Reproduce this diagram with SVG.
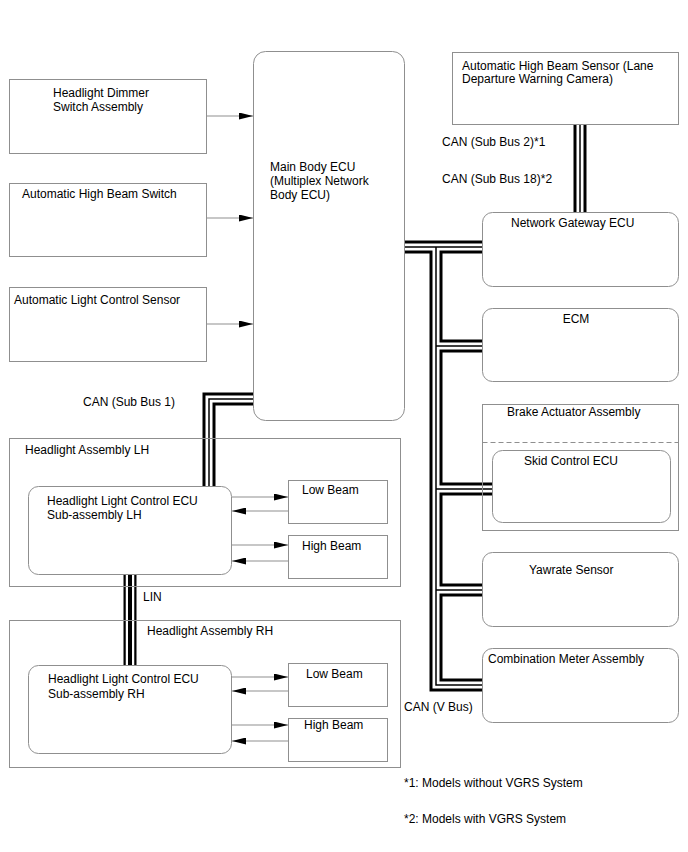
<svg xmlns="http://www.w3.org/2000/svg" width="688" height="852" viewBox="0 0 688 852">
<style>
.box{fill:#fff;stroke:#8f8f8f;stroke-width:1}
.grp{fill:none;stroke:#8f8f8f;stroke-width:1}
.t{font-family:"Liberation Sans",Arial,sans-serif;font-size:12px;fill:#000}
.ln{fill:none;stroke:#8f8f8f;stroke-width:1}
.b1{fill:none;stroke:#000;stroke-width:13;stroke-linejoin:miter}
.b2{fill:none;stroke:#fff;stroke-width:7;stroke-linejoin:miter}
.b3{fill:none;stroke:#000;stroke-width:1.5;stroke-linejoin:miter}
.l2{fill:none;stroke:#fff;stroke-width:8.5}
.l3{fill:none;stroke:#000;stroke-width:4}
</style>
<defs>
<marker id="ah" viewBox="0 0 14 7" refX="14" refY="3.5" markerWidth="14" markerHeight="7" markerUnits="userSpaceOnUse" orient="auto">
<path d="M0,0 L14,3.5 L0,7 z" fill="#000"/>
</marker>
<path id="busR" d="M404,247 H482 M436,247 V685 H482 M436,346 H482 M436,489 H492 M436,590 H482"/>
<path id="busS" d="M580,124 V212"/>
<path id="busL" d="M254,399 H209 V486"/>
<path id="busLin" d="M130,574 V666"/>
</defs>
<rect width="688" height="852" fill="#fff"/>
<g id="connectors">
<use href="#busR" class="b1"/><use href="#busS" class="b1"/><use href="#busL" class="b1"/><use href="#busLin" class="b1"/>
<use href="#busR" class="b2"/><use href="#busS" class="b2"/><use href="#busL" class="b2"/><use href="#busLin" class="l2"/>
<use href="#busR" class="b3"/><use href="#busS" class="b3"/><use href="#busL" class="b3"/><use href="#busLin" class="l3"/>
<path class="ln" marker-end="url(#ah)" d="M207,116 H253"/>
<path class="ln" marker-end="url(#ah)" d="M207,218 H253"/>
<path class="ln" marker-end="url(#ah)" d="M207,324 H253"/>
<path class="ln" marker-end="url(#ah)" d="M232,497 H288"/>
<path class="ln" marker-end="url(#ah)" d="M288,511 H232"/>
<path class="ln" marker-end="url(#ah)" d="M232,545 H288"/>
<path class="ln" marker-end="url(#ah)" d="M288,561 H232"/>
<path class="ln" marker-end="url(#ah)" d="M232,677 H288"/>
<path class="ln" marker-end="url(#ah)" d="M288,691 H232"/>
<path class="ln" marker-end="url(#ah)" d="M232,725 H288"/>
<path class="ln" marker-end="url(#ah)" d="M288,741 H232"/>
<text class="t" x="442" y="146">CAN (Sub Bus 2)*1</text>
<text class="t" x="442" y="183">CAN (Sub Bus 18)*2</text>
<text class="t" x="83" y="406">CAN (Sub Bus 1)</text>
<text class="t" x="143" y="601">LIN</text>
<text class="t" x="404" y="711">CAN (V Bus)</text>
</g>
<g id="dimmer"><rect class="box" x="9.5" y="79.5" width="197" height="74"/>
<text class="t" x="53" y="97">Headlight Dimmer</text><text class="t" x="53" y="111">Switch Assembly</text></g>
<g id="hbswitch"><rect class="box" x="9.5" y="183.5" width="197" height="73"/>
<text class="t" x="22" y="198">Automatic High Beam Switch</text></g>
<g id="lightsensor"><rect class="box" x="9.5" y="287.5" width="197" height="74"/>
<text class="t" x="14" y="304">Automatic Light Control Sensor</text></g>
<g id="mainecu"><rect class="box" x="253.5" y="51.5" width="151" height="369" rx="12"/>
<text class="t" x="270" y="171">Main Body ECU</text><text class="t" x="270" y="185">(Multiplex Network</text><text class="t" x="270" y="199">Body ECU)</text></g>
<g id="hbsensor"><rect class="box" x="452.5" y="52.5" width="226" height="72"/>
<text class="t" x="462" y="70">Automatic High Beam Sensor (Lane</text><text class="t" x="462" y="83">Departure Warning Camera)</text></g>
<g id="gateway"><rect class="box" x="482.5" y="212.5" width="196" height="74" rx="10"/>
<text class="t" x="511" y="227">Network Gateway ECU</text></g>
<g id="ecm"><rect class="box" x="482.5" y="308.5" width="196" height="73" rx="10"/>
<text class="t" x="576" y="323" text-anchor="middle">ECM</text></g>
<g id="brake"><rect class="grp" x="482.5" y="404.5" width="196" height="126"/>
<line x1="482.5" y1="442.5" x2="678.5" y2="442.5" stroke="#8f8f8f" stroke-dasharray="5,3"/>
<text class="t" x="507" y="416">Brake Actuator Assembly</text></g>
<g id="skid"><rect class="box" x="492.5" y="450.5" width="178" height="72" rx="10"/>
<text class="t" x="524" y="465">Skid Control ECU</text></g>
<g id="yaw"><rect class="box" x="482.5" y="552.5" width="196" height="74" rx="10"/>
<text class="t" x="529" y="574">Yawrate Sensor</text></g>
<g id="meter"><rect class="box" x="482.5" y="648.5" width="196" height="74" rx="10"/>
<text class="t" x="488" y="663">Combination Meter Assembly</text></g>
<g id="hlLH"><rect class="grp" x="9.5" y="438.5" width="391" height="148"/>
<text class="t" x="25" y="454">Headlight Assembly LH</text></g>
<g id="ecuLH"><rect class="box" x="28.5" y="486.5" width="203" height="88" rx="10"/>
<text class="t" x="47" y="505">Headlight Light Control ECU</text><text class="t" x="47" y="519">Sub-assembly LH</text></g>
<g id="lowLH"><rect class="box" x="288.5" y="480.5" width="99" height="43"/>
<text class="t" x="302" y="494">Low Beam</text></g>
<g id="highLH"><rect class="box" x="288.5" y="535.5" width="99" height="43"/>
<text class="t" x="302" y="550">High Beam</text></g>
<g id="hlRH"><rect class="grp" x="9.5" y="620.5" width="391" height="147"/>
<text class="t" x="147" y="635">Headlight Assembly RH</text></g>
<g id="ecuRH"><rect class="box" x="28.5" y="665.5" width="203" height="88" rx="10"/>
<text class="t" x="48" y="683">Headlight Light Control ECU</text><text class="t" x="48" y="698">Sub-assembly RH</text></g>
<g id="lowRH"><rect class="box" x="288.5" y="663.5" width="99" height="43"/>
<text class="t" x="306" y="678">Low Beam</text></g>
<g id="highRH"><rect class="box" x="288.5" y="718.5" width="99" height="43"/>
<text class="t" x="304" y="729">High Beam</text></g>
<g id="notes">
<text class="t" x="404" y="787">*1: Models without VGRS System</text>
<text class="t" x="404" y="823">*2: Models with VGRS System</text>
</g>
</svg>
